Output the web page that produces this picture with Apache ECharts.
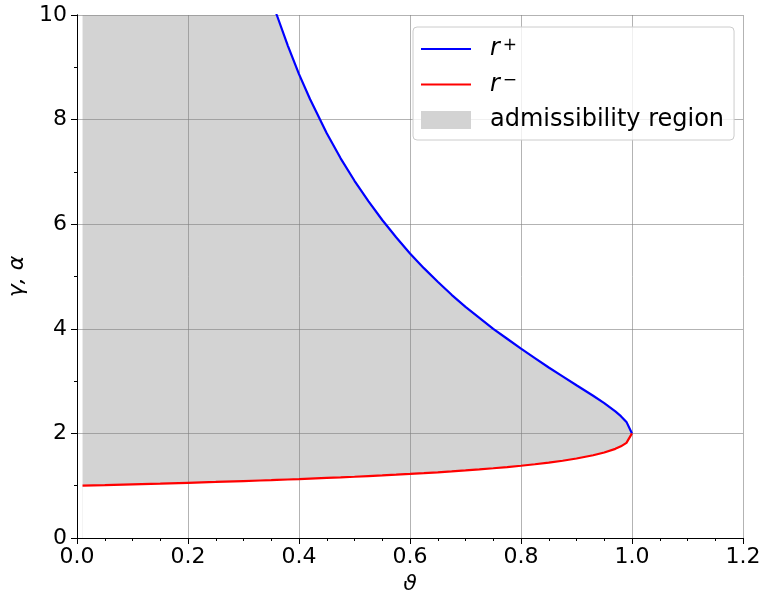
<!DOCTYPE html>
<html>
<head>
<meta charset="utf-8">
<script src="https://cdn.jsdelivr.net/npm/echarts@6/dist/echarts.min.js"></script>
<style>
html,body{margin:0;padding:0;background:#fff;}
#chart{width:766px;height:593px;}
</style>
</head>
<body>
<div id="chart"></div>
<script>
// theta values (x) and curve values
const theta = [0.01,0.05,0.1,0.15,0.2,0.25,0.3,0.33,0.35,0.36,0.38,0.4,0.42,0.45,0.475,0.5,0.525,0.55,0.575,0.6,0.625,0.65,0.675,0.7,0.725,0.75,0.775,0.8,0.825,0.85,0.875,0.9,0.93,0.95,0.97,0.98,0.99,1.0];
const rPlus = [399.0,79.0,38.97,25.62,18.94,14.93,12.24,11.02,10.32,10.0,9.41,8.87,8.39,7.74,7.26,6.83,6.44,6.08,5.75,5.44,5.16,4.90,4.65,4.42,4.21,4.0,3.81,3.62,3.44,3.26,3.09,2.92,2.72,2.58,2.42,2.33,2.22,2.0];
const rMinus = [1.0025,1.0128,1.0263,1.0406,1.0557,1.0718,1.0889,1.0998,1.1073,1.1111,1.1190,1.1270,1.1353,1.1484,1.1597,1.1716,1.1840,1.1970,1.2107,1.2251,1.2404,1.2566,1.2738,1.2922,1.3120,1.3333,1.3565,1.3820,1.4101,1.4417,1.4776,1.5195,1.5816,1.6345,1.7047,1.7522,1.8182,2.0];
const xTicks = [0.0,0.2,0.4,0.6,0.8,1.0,1.2];
const yTicks = [0,2,4,6,8,10];
const legendNames = ['r+','r-','admissibility region'];

const plusData = theta.map((t,i)=>[t,rPlus[i]]);
const minusData = theta.map((t,i)=>[t,rMinus[i]]);

const FONT = 'DejaVu Sans';
const chart = echarts.init(document.getElementById('chart'), null, {renderer:'canvas'});

const axisCommon = {
  z: 3,
  axisLine:{show:true, lineStyle:{color:'#000', width:1}},
  axisTick:{show:true, inside:false, length:6, lineStyle:{color:'#000', width:1}},
  splitLine:{show:true, lineStyle:{color:'#808080', width:1, opacity:0.6}}
};
const LINE_ICON = 'path://M0,0 L50,0 L50,2.2 L0,2.2 Z';

chart.setOption({
  animation:false,
  backgroundColor:'#fff',
  grid:{left:77, top:15, width:666, height:523, containLabel:false, outerBoundsMode:'none'},
  xAxis:[
    Object.assign({}, axisCommon, {
      type:'value', min:xTicks[0], max:xTicks[xTicks.length-1], interval:0.2,
      minorTick:{show:true, splitNumber:4, length:3, lineStyle:{color:'#000', width:1}},
      axisLabel:{color:'#000', fontFamily:FONT, fontSize:22, margin:8, formatter:v=>v.toFixed(1)},
      name:'ϑ', nameLocation:'middle', nameGap:29,
      nameTextStyle:{color:'#000', fontFamily:FONT, fontSize:22, fontStyle:'italic'}
    }),
    {type:'value', position:'top', min:0, max:1.2, z:3,
     axisLine:{show:true, lineStyle:{color:'#000', width:1}},
     axisTick:{show:false}, axisLabel:{show:false}, splitLine:{show:false}}
  ],
  yAxis:[
    Object.assign({}, axisCommon, {
      type:'value', min:yTicks[0], max:yTicks[yTicks.length-1], interval:2,
      minorTick:{show:true, splitNumber:2, length:3, lineStyle:{color:'#000', width:1}},
      axisLabel:{color:'#000', fontFamily:FONT, fontSize:22, margin:10},
      name:'γ, α', nameLocation:'middle', nameGap:44, nameRotate:90,
      nameTextStyle:{color:'#000', fontFamily:FONT, fontSize:22, fontStyle:'italic'}
    }),
    {type:'value', position:'right', min:0, max:10, z:3,
     axisLine:{show:true, lineStyle:{color:'#000', width:1}},
     axisTick:{show:false}, axisLabel:{show:false}, splitLine:{show:false}}
  ],
  legend:{
    orient:'vertical', left:413, top:27,
    itemWidth:50, itemHeight:18, itemGap:11.5,
    padding:[10,10,8,8],
    symbolKeepAspect:true,
    backgroundColor:'rgba(255,255,255,0.8)', borderColor:'#cccccc', borderWidth:1, borderRadius:4,
    data:[
      {name:legendNames[0], icon:LINE_ICON, itemStyle:{color:'#0000ff'}},
      {name:legendNames[1], icon:LINE_ICON, itemStyle:{color:'#ff0000'}},
      {name:legendNames[2], icon:'rect', itemStyle:{color:'#d3d3d3'}}
    ],
    formatter:function(name){
      if(name==='r+') return '{sp| }{r|r}{sup|+}';
      if(name==='r-') return '{sp| }{r|r}{sup|−}';
      return '{sp| }{t|admissibility region}';
    },
    textStyle:{
      color:'#000', fontFamily:FONT, fontSize:24, lineHeight:24,
      rich:{
        sp:{width:14, fontSize:24, lineHeight:24},
        r:{fontStyle:'italic', fontFamily:FONT, fontSize:24, lineHeight:24, color:'#000'},
        sup:{fontFamily:FONT, fontSize:17, lineHeight:13, color:'#000', verticalAlign:'top', padding:[0,0,0,3]},
        t:{fontFamily:FONT, fontSize:24, lineHeight:24, color:'#000'}
      }
    }
  },
  series:[
    {
      name:legendNames[2], type:'line', data:plusData, symbol:'none', z:1,
      lineStyle:{width:0}, itemStyle:{color:'#d3d3d3'},
      areaStyle:{color:'#d3d3d3', opacity:1}, clip:true, silent:true
    },
    {
      name:'cover', type:'line', data:minusData, symbol:'none', z:1,
      lineStyle:{width:0}, itemStyle:{color:'#ffffff'},
      areaStyle:{color:'#ffffff', opacity:1}, clip:true, silent:true
    },
    {
      name:legendNames[0], type:'line', data:plusData, symbol:'none', z:5,
      lineStyle:{color:'#0000ff', width:2.2}, itemStyle:{color:'#0000ff'}, clip:true
    },
    {
      name:legendNames[1], type:'line', data:minusData, symbol:'none', z:5,
      lineStyle:{color:'#ff0000', width:2.2}, itemStyle:{color:'#ff0000'}, clip:true
    }
  ]
});
</script>
</body>
</html>
